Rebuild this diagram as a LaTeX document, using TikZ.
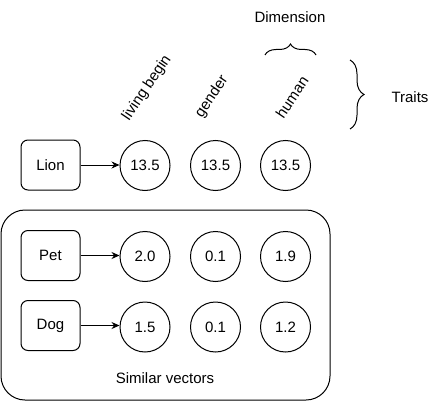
\documentclass[tikz,border=0pt]{standalone}
\usepackage{fontspec}
\setmainfont{Liberation Sans}
\usetikzlibrary{arrows.meta,decorations.pathreplacing}
\begin{document}
\begin{tikzpicture}[x=1pt,y=-1pt,
  every node/.style={font=\fontsize{15}{18}\selectfont, inner sep=0pt},
  wordbox/.style={draw, rounded corners=7pt, minimum width=59pt, minimum height=50pt, line width=1pt},
  valcircle/.style={draw, circle, minimum size=50pt, line width=1pt},
  conn/.style={-{Stealth[length=8pt,width=7pt]}, line width=1pt},
  brc/.style={decorate, decoration={brace, amplitude=#1}, line width=1pt},
  trait/.style={rotate=56, anchor=center}
]
\useasboundingbox (0,0) rectangle (441,401);
% group
\node[draw, rounded corners=24pt, line width=1pt, minimum width=329pt, minimum height=190pt] (grp) at (165.5,305) {};
\node (sim) at (165,378) {Similar vectors};
% rows
\node[wordbox] (lion) at (50.5,165) {Lion};
\node[valcircle] (l1) at (145,165.5) {13.5};
\node[valcircle] (l2) at (215.5,165.5) {13.5};
\node[valcircle] (l3) at (285.5,165.5) {13.5};
\node[wordbox] (pet) at (50.5,255.5) {Pet};
\node[valcircle] (p1) at (145,256.5) {2.0};
\node[valcircle] (p2) at (215.5,256.5) {0.1};
\node[valcircle] (p3) at (285.5,256.5) {1.9};
\node[wordbox] (dog) at (50.5,325.5) {Dog};
\node[valcircle] (d1) at (145,327) {1.5};
\node[valcircle] (d2) at (215.5,327) {0.1};
\node[valcircle] (d3) at (285.5,327) {1.2};
\draw[conn] (lion.east) -- (l1.west |- lion.east);
\draw[conn] (pet.east) -- (p1.west |- pet.east);
\draw[conn] (dog.east) -- (d1.west |- dog.east);
% trait labels
\node[trait] (t1) at (147,88) {living begin};
\node[trait] (t2) at (212,97) {gender};
\node[trait] (t3) at (292,97) {human};
% braces
\coordinate (dimL) at (265,55);
\coordinate (dimR) at (316,55);
\draw[brc=11pt] (dimL) -- (dimR);
\node (dim) at (290,17) {Dimension};
\coordinate (trT) at (350,60);
\coordinate (trB) at (350,129);
\draw[brc=14pt] (trT) -- (trB);
\node (traits) at (410,97) {Traits};
\end{tikzpicture}
\end{document}
